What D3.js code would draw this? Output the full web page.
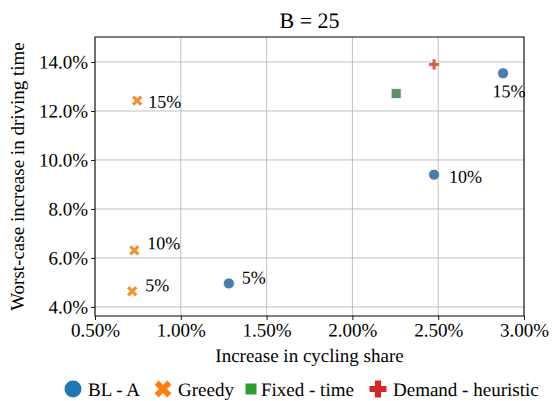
<!DOCTYPE html>
<html>
<head>
<meta charset="utf-8">
<script src="https://cdn.jsdelivr.net/npm/d3@7"></script>
<style>
  body { margin: 0; background: #fff; }
</style>
</head>
<body>
<svg id="chart" width="552" height="401"></svg>
<script>
// series (x = increase in cycling share %, y = worst-case increase in driving time %)
const seriesNames = ['BL - A', 'Greedy', 'Fixed - time', 'Demand - heuristic'];
const blaX = [1.28, 2.476, 2.878];
const blaY = [4.96, 9.40, 13.54];
const blaLabels = ['5%', '10%', '15%'];
const greedyX = [0.717, 0.729, 0.746];
const greedyY = [4.64, 6.31, 12.42];
const greedyLabels = ['5%', '10%', '15%'];
const fixedX = [2.255];
const fixedY = [12.71];
const demandX = [2.476];
const demandY = [13.90];
const xTicks = [0.5, 1.0, 1.5, 2.0, 2.5, 3.0];
const yTicks = [4, 6, 8, 10, 12, 14];

const W = 552, H = 401;
const margin = { top: 37, right: 28, bottom: 85, left: 95 };
const width = W - margin.left - margin.right;
const height = H - margin.top - margin.bottom;
const serif = 'Liberation Serif';

const plotColors = ['#4a7cad', '#f5922f', '#5d8f6e', '#d6624c'];
const legendColors = ['#1f77b4', '#ff7f0e', '#2ca02c', '#d62728'];

// filled cross shape, like matplotlib 'P' / 'X'
function crossPath(size, t, rot) {
  const a = size / 2, b = t / 2;
  const pts = [[-b, -a], [b, -a], [b, -b], [a, -b], [a, b], [b, b], [b, a], [-b, a], [-b, b], [-a, b], [-a, -b], [-b, -b]];
  const c = Math.cos(rot), s = Math.sin(rot);
  return 'M' + pts.map(p => [p[0] * c - p[1] * s, p[0] * s + p[1] * c].join(',')).join('L') + 'Z';
}
function markerPath(kind, size) {
  if (kind === 0) return d3.symbol(d3.symbolCircle, Math.PI * (size / 2) ** 2)();
  if (kind === 1) return crossPath(size * 1.2, size * 0.38, Math.PI / 4);
  if (kind === 2) return d3.symbol(d3.symbolSquare, size * size)();
  return crossPath(size, size * 0.36, 0);
}

const svg = d3.select('#chart');
const g = svg.append('g')
  .attr('transform', `translate(${margin.left},${margin.top})`);

const x = d3.scaleLinear().domain([0.5, 3.0]).range([0, width]);
const y = d3.scaleLinear().domain([3.63, 15.02]).range([height, 0]);

// grid
g.append('g').selectAll('line').data(xTicks).enter().append('line')
  .attr('x1', d => x(d)).attr('x2', d => x(d))
  .attr('y1', 0).attr('y2', height)
  .attr('stroke', '#b0b0b0').attr('stroke-width', 0.8);
g.append('g').selectAll('line').data(yTicks).enter().append('line')
  .attr('y1', d => y(d)).attr('y2', d => y(d))
  .attr('x1', 0).attr('x2', width)
  .attr('stroke', '#b0b0b0').attr('stroke-width', 0.8);

// axes
const xAxis = g.append('g')
  .attr('transform', `translate(0,${height})`)
  .call(d3.axisBottom(x).tickValues(xTicks).tickSize(4).tickPadding(3)
    .tickFormat(d => d.toFixed(2) + '%'));
const yAxis = g.append('g')
  .call(d3.axisLeft(y).tickValues(yTicks).tickSize(4).tickPadding(3)
    .tickFormat(d => d.toFixed(1) + '%'));
[xAxis, yAxis].forEach(a => {
  a.attr('font-family', null).attr('font-size', null);
  a.selectAll('text').attr('fill', '#000').style('font-size', '19px');
  a.selectAll('line').attr('stroke', '#000').attr('stroke-width', 0.9);
  a.select('.domain').remove();
});
// frame
g.append('rect').attr('width', width).attr('height', height)
  .attr('fill', 'none').attr('stroke', '#000').attr('stroke-width', 1);

// points
const series = [
  { xs: blaX, ys: blaY },
  { xs: greedyX, ys: greedyY },
  { xs: fixedX, ys: fixedY },
  { xs: demandX, ys: demandY }
];
const markerSize = [11, 10, 10, 11];
series.forEach((s, k) => {
  g.append('g').selectAll('path')
    .data(d3.zip(s.xs, s.ys)).enter().append('path')
    .attr('transform', d => `translate(${x(d[0])},${y(d[1])})`)
    .attr('d', markerPath(k, markerSize[k]))
    .attr('fill', plotColors[k])
    .attr('stroke', '#fff').attr('stroke-width', 0.8);
});

// point labels
const blaOffsets = [[13, 0], [15, 8], [6, 24]];
const blaAnchor = ['start', 'start', 'middle'];
g.append('g').selectAll('text')
  .data(d3.zip(blaX, blaY, blaLabels)).enter().append('text')
  .attr('x', (d, i) => x(d[0]) + blaOffsets[i][0])
  .attr('y', (d, i) => y(d[1]) + blaOffsets[i][1])
  .attr('text-anchor', (d, i) => blaAnchor[i])
  .style('font-size', '18px')
  .text(d => d[2]);
const greedyOffsets = [[13, 0], [13, -1], [11, 7]];
g.append('g').selectAll('text')
  .data(d3.zip(greedyX, greedyY, greedyLabels)).enter().append('text')
  .attr('x', (d, i) => x(d[0]) + greedyOffsets[i][0])
  .attr('y', (d, i) => y(d[1]) + greedyOffsets[i][1])
  .style('font-size', '18px')
  .text(d => d[2]);

// title and axis labels
svg.append('text')
  .attr('x', margin.left + width / 2).attr('y', 28)
  .attr('text-anchor', 'middle').style('font-size', '22px')
  .text('B = 25');
svg.append('text')
  .attr('x', margin.left + width / 2).attr('y', 362)
  .attr('text-anchor', 'middle').style('font-size', '19px')
  .text('Increase in cycling share');
svg.append('text')
  .attr('transform', `translate(24,${margin.top + height / 2}) rotate(-90)`)
  .attr('text-anchor', 'middle').style('font-size', '19px')
  .text('Worst-case increase in driving time');

// legend
const legendX = [73, 163, 251, 378];
const legendSize = [17, 15, 11, 17];
const legend = svg.append('g').attr('transform', 'translate(0,389)');
const item = legend.selectAll('g').data(seriesNames).enter().append('g')
  .attr('transform', (d, i) => `translate(${legendX[i]},0)`);
item.append('path')
  .attr('d', (d, i) => markerPath(i, legendSize[i]))
  .attr('fill', (d, i) => legendColors[i]);
item.append('text')
  .attr('x', (d, i) => i === 2 ? 10 : 15).attr('y', 7)
  .style('font-size', '19px')
  .text(d => d);

// serif everywhere; a tiny rotation keeps horizontal text on the same glyph path as the rotated label
svg.selectAll('text')
  .style('font-family', serif)
  .each(function () {
    const t = d3.select(this);
    if (!t.attr('transform')) {
      const tx = +t.attr('x') || 0, ty = +t.attr('y') || 0;
      t.attr('transform', `rotate(0.05,${tx},${ty})`);
    }
  });
</script>
</body>
</html>
